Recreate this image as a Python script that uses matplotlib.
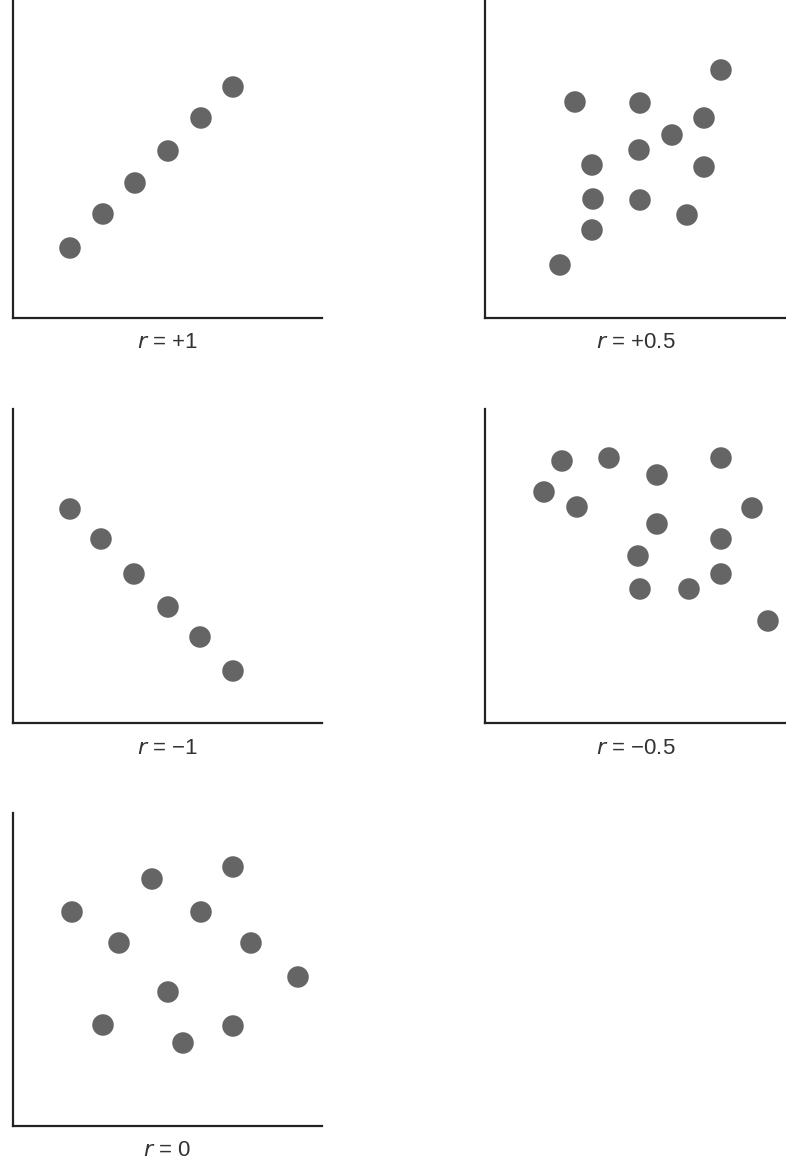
import matplotlib
matplotlib.use('Agg')
import matplotlib.pyplot as plt

plt.rcParams['font.family'] = ['Liberation Sans Narrow', 'Liberation Sans', 'DejaVu Sans']
plt.rcParams['mathtext.fontset'] = 'custom'
plt.rcParams['mathtext.it'] = 'Liberation Sans Narrow:italic'
plt.rcParams['mathtext.rm'] = 'Liberation Sans Narrow'

# values (pixel units from each panel's origin)
x_pos1 = [57, 90, 122, 155, 188, 220]
y_pos1 = [70, 104, 135, 167, 200, 231]

x_pos05 = [236, 90, 155, 219, 187, 154, 107, 219, 108, 155, 202, 107, 75]
y_pos05 = [248, 216, 215, 200, 183, 168, 153, 151, 119, 118, 103, 88, 53]

x_neg1 = [57, 88, 121, 155, 187, 220]
y_neg1 = [214, 184, 149, 116, 86, 52]

x_neg05 = [77, 124, 236, 172, 59, 92, 267, 172, 236, 153, 236, 155, 204, 283]
y_neg05 = [262, 265, 265, 248, 231, 216, 215, 199, 184, 167, 149, 134, 134, 102]

x_zero = [220, 139, 59, 188, 106, 238, 285, 155, 90, 220, 170]
y_zero = [259, 247, 214, 214, 183, 183, 149, 134, 101, 100, 83]

labels = ['$r$ = +1', '$r$ = +0.5', '$r$ = \u22121', '$r$ = \u22120.5', '$r$ = 0']

W, H = 786, 1168
fig = plt.figure(figsize=(W / 100, H / 100), dpi=100)

# panel boxes in pixels: left, bottom(y from top), width, height
boxes = [(13, 318, 309, 318),
         (485, 318, 301, 318),
         (13, 723, 309, 314),
         (485, 723, 301, 314),
         (13, 1126, 309, 313)]
data = [(x_pos1, y_pos1), (x_pos05, y_pos05), (x_neg1, y_neg1),
        (x_neg05, y_neg05), (x_zero, y_zero)]

for (l, b, w, h), (xs, ys), lab in zip(boxes, data, labels):
    ax = fig.add_axes([l / W, 1 - b / H, w / W, h / H])
    ax.scatter(xs, ys, s=240, color='#656565', edgecolors='none', clip_on=False)
    ax.set_xlim(0, w)
    ax.set_ylim(0, h)
    ax.spines['top'].set_visible(False)
    ax.spines['right'].set_visible(False)
    for s in ['left', 'bottom']:
        ax.spines[s].set_linewidth(1.6)
        ax.spines[s].set_color('#222222')
    ax.set_xticks([])
    ax.set_yticks([])
    ax.annotate(lab, xy=(0.5, 0), xycoords='axes fraction', xytext=(0, -25 * 0.72),
                textcoords='offset points', ha='center', va='center',
                fontsize=16, color='#333333')

fig.savefig('out.png', dpi=100)
